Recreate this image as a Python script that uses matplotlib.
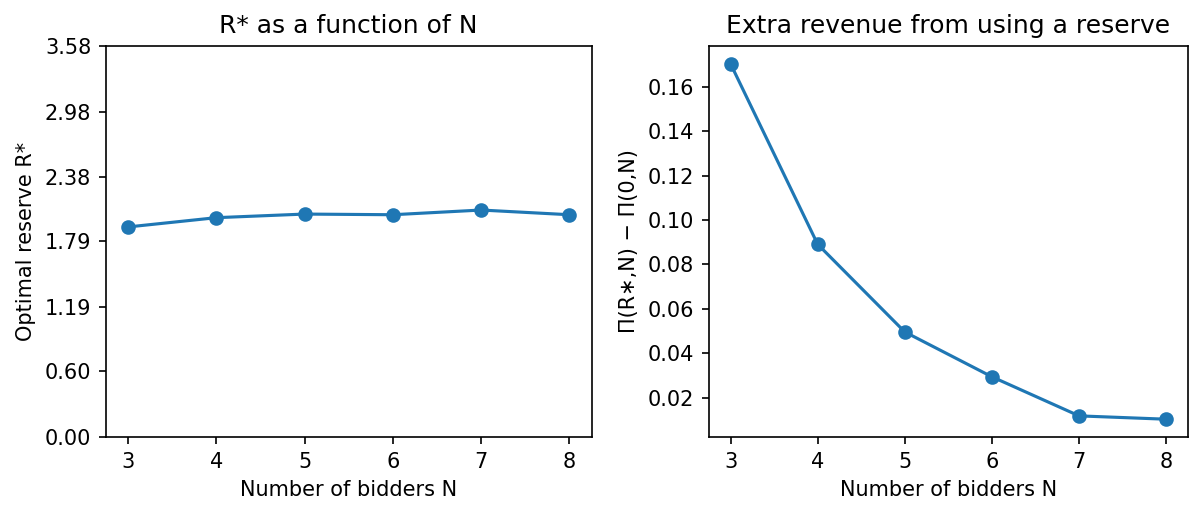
import numpy as np
import matplotlib
matplotlib.use("Agg")
import matplotlib.pyplot as plt

N = [3, 4, 5, 6, 7, 8]
r_star = [1.923, 2.008, 2.041, 2.035, 2.078, 2.035]
extra_rev = [0.1704, 0.0891, 0.0496, 0.0294, 0.0118, 0.0103]
r_ticks = [0.00, 0.60, 1.19, 1.79, 2.38, 2.98, 3.58]

fig = plt.figure(figsize=(1190 / 150, 506 / 150), dpi=150)
ax1 = fig.add_axes([0.0889, 0.1364, 0.4082, 0.7727])
ax2 = fig.add_axes([0.5956, 0.1364, 0.4027, 0.7727])

ax1.plot(N, r_star, marker='o', color='#1f77b4')
ax1.set_ylim(r_ticks[0], r_ticks[-1])
ax1.set_yticks(r_ticks)
ax1.set_yticklabels([f"{t:.2f}" for t in r_ticks])
ax1.set_xlabel("Number of bidders N")
ax1.set_ylabel("Optimal reserve R*")
ax1.set_title("R* as a function of N")

ax2.plot(N, extra_rev, marker='o', color='#1f77b4')
ax2.set_xlabel("Number of bidders N")
ax2.set_ylabel("Π(R∗,N) − Π(0,N)")
ax2.set_title("Extra revenue from using a reserve")

fig.savefig("out.png", dpi=150)
